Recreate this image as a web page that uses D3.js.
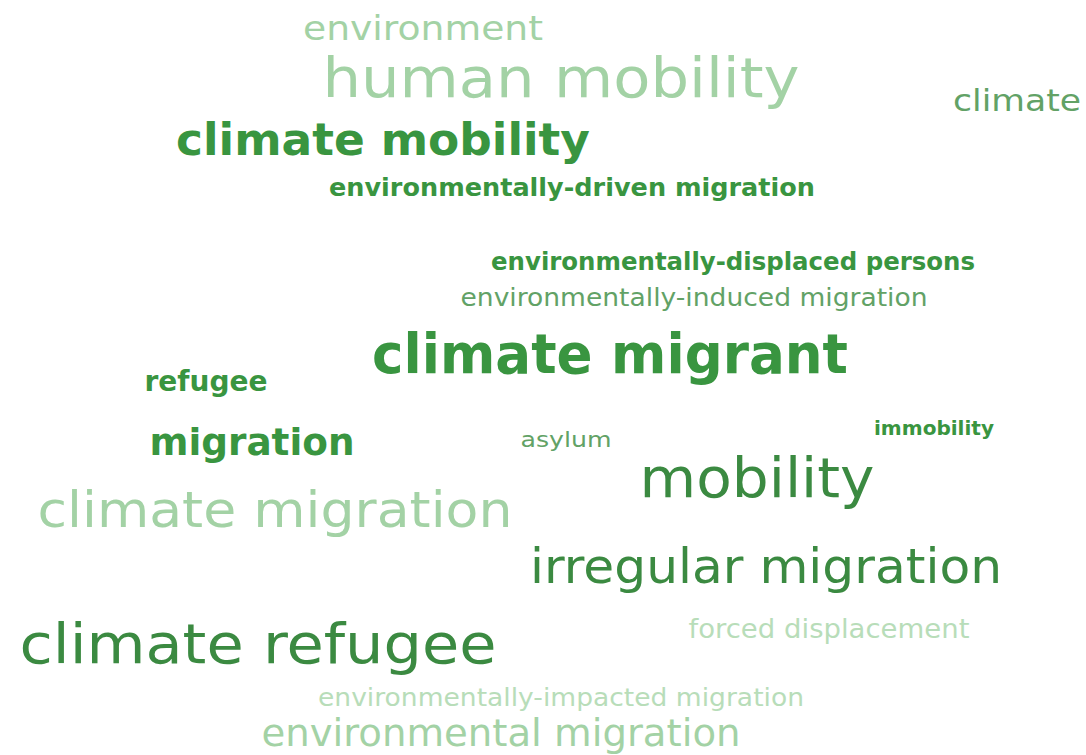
<!DOCTYPE html>
<html>
<head>
<meta charset="utf-8">
<script src="https://cdn.jsdelivr.net/npm/d3@7"></script>
<style>
  body { margin: 0; background: #fff; }
  text { font-family: "DejaVu Sans", sans-serif; }
</style>
</head>
<body>
<div id="chart-area"></div>
<script>
// word cloud terms and their weights
var words = [
  "environment", "human mobility", "climate", "climate mobility",
  "environmentally-driven migration", "environmentally-displaced persons",
  "environmentally-induced migration", "climate migrant", "refugee",
  "migration", "asylum", "immobility", "mobility", "climate migration",
  "irregular migration", "climate refugee", "forced displacement",
  "environmentally-impacted migration", "environmental migration"
];
var weights = [34, 56, 30, 44, 25, 25, 24, 55, 28, 38, 22, 20, 55, 50, 48, 56, 26, 25, 37];
var tiers = ["light", "light", "mid", "bold", "bold", "bold", "mid", "bold", "bold",
  "bold", "mid", "bold", "dark", "light", "dark", "dark", "lighter", "lighter", "light"];

// cloud layout: centre x, baseline y, box width
var layoutX = [423, 561, 1017, 383, 572, 733, 694, 610, 206, 252, 566, 934, 757, 275, 766, 258, 829, 561, 501];
var layoutY = [40, 97, 111, 155, 196, 270, 306, 373, 391, 455, 447, 435, 497, 527, 583, 663, 638, 706, 746];
var layoutW = [240, 477, 128, 414, 486, 484, 467, 476, 123, 205, 91, 120, 235, 475, 472, 477, 281, 486, 479];

var width = 1086, height = 755;

var colorScale = d3.scaleOrdinal()
  .domain(["light", "lighter", "mid", "bold", "dark"])
  .range(["#a3d2a5", "#b8ddb9", "#62a266", "#399540", "#3b8a41"]);

var fontScale = d3.scaleLinear()
  .domain([d3.min(weights), d3.max(weights)])
  .range([d3.min(weights), d3.max(weights)]);

var data = words.map(function(w, i) {
  return { text: w, weight: weights[i], tier: tiers[i],
    x: layoutX[i], y: layoutY[i], w: layoutW[i] };
});

var svg = d3.select("#chart-area").append("svg")
  .attr("width", width)
  .attr("height", height);

svg.selectAll("text")
  .data(data)
  .enter()
  .append("text")
    .attr("x", function(d) { return d.x; })
    .attr("y", function(d) { return d.y; })
    .attr("text-anchor", "middle")
    .attr("font-size", function(d) { return fontScale(d.weight) + "px"; })
    .attr("font-weight", function(d) { return d.tier === "bold" ? "bold" : "normal"; })
    .attr("fill", function(d) { return colorScale(d.tier); })
    .attr("textLength", function(d) { return d.w; })
    .attr("lengthAdjust", "spacingAndGlyphs")
    .text(function(d) { return d.text; });
</script>
</body>
</html>
